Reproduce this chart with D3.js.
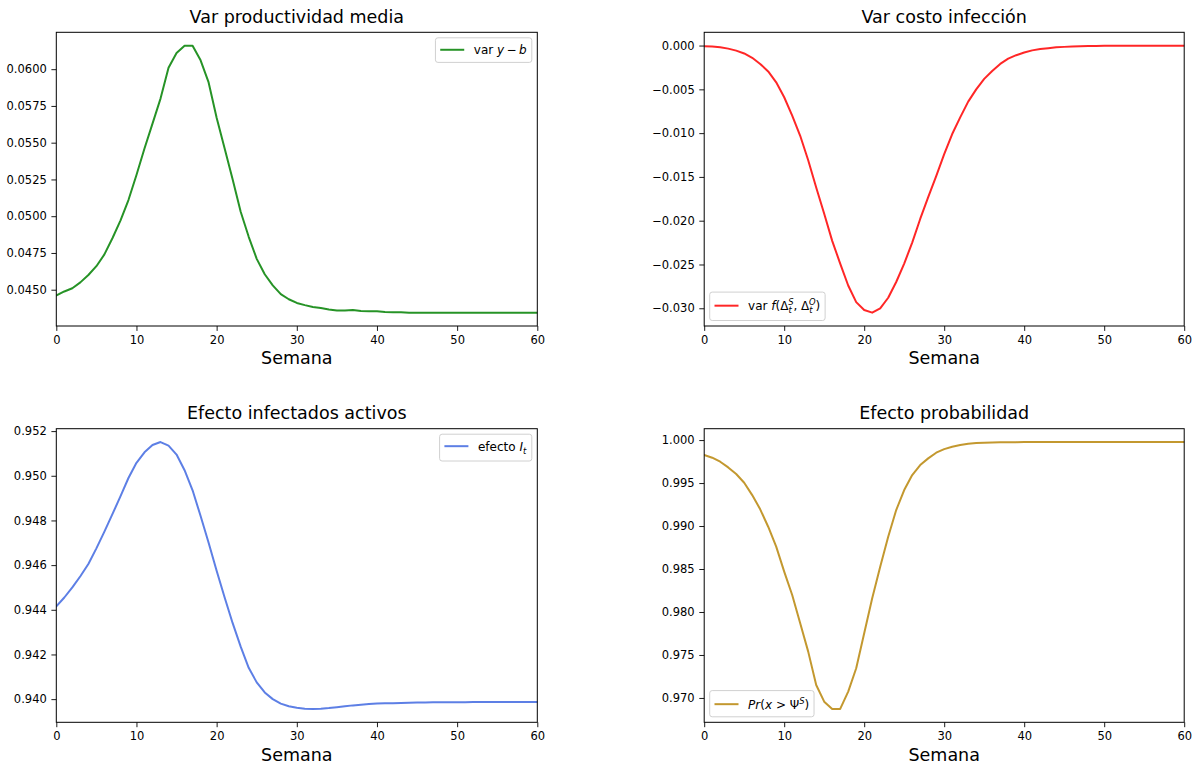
<!DOCTYPE html>
<html><head><meta charset="utf-8">
<script src="https://cdn.jsdelivr.net/npm/d3@7"></script>
<style>
body{margin:0;background:#fff}
svg{display:block}
text{font-family:"DejaVu Sans",sans-serif;fill:#000}
</style>
</head><body>
<svg id="c" width="1202" height="771"></svg>
<script>
// ---------------- data ----------------
const semanas = [0,1,2,3,4,5,6,7,8,9,10,11,12,13,14,15,16,17,18,19,20,21,22,23,24,25,26,27,28,29,30,
  31,32,33,34,35,36,37,38,39,40,41,42,43,44,45,46,47,48,49,50,51,52,53,54,55,56,57,58,59,60];

const varProductividad = [0.04460,0.04488,0.04510,0.04550,0.04600,0.04660,0.04740,0.04850,0.04970,0.05110,
  0.05280,0.05460,0.05630,0.05800,0.06010,0.06110,0.06160,0.06160,0.06060,0.05910,
  0.05670,0.05460,0.05250,0.05030,0.04860,0.04710,0.04605,0.04530,0.04470,0.04435,
  0.04410,0.04395,0.04382,0.04375,0.04365,0.04358,0.04358,0.04362,0.04356,0.04353,
  0.04353,0.04348,0.04347,0.04347,0.04344,0.04344,0.04344,0.04344,0.04344,0.04344,
  0.04344,0.04344,0.04344,0.04344,0.04344,0.04344,0.04344,0.04344,0.04344,0.04344,0.04344];

const varCosto = [-0.00008,-0.00012,-0.00020,-0.00035,-0.00058,-0.00090,-0.00140,-0.00210,-0.00295,-0.00420,
  -0.00590,-0.00800,-0.01030,-0.01310,-0.01620,-0.01920,-0.02230,-0.02490,-0.02740,-0.02930,
  -0.03020,-0.03050,-0.03000,-0.02880,-0.02700,-0.02490,-0.02250,-0.01980,-0.01730,-0.01490,
  -0.01240,-0.01010,-0.00820,-0.00640,-0.00500,-0.00380,-0.00290,-0.00210,-0.00150,-0.00110,
  -0.00080,-0.00055,-0.00040,-0.00030,-0.00020,-0.00015,-0.00010,-0.00007,-0.00005,-0.00004,
  -0.00003,-0.00002,-0.00002,-0.00002,-0.00001,-0.00001,-0.00001,-0.00001,-0.00001,-0.00001,-0.00001];

const efectoInfectados = [0.94415,0.94455,0.94500,0.94550,0.94605,0.94675,0.94750,0.94828,0.94908,0.94990,
  0.95058,0.95105,0.95138,0.95151,0.95135,0.95095,0.95025,0.94935,0.94820,0.94700,
  0.94575,0.94455,0.94340,0.94235,0.94140,0.94075,0.94030,0.94000,0.93980,0.93968,
  0.93961,0.93957,0.93956,0.93957,0.93960,0.93964,0.93968,0.93972,0.93975,0.93978,
  0.93980,0.93981,0.93982,0.93983,0.93984,0.93985,0.93985,0.93986,0.93986,0.93986,
  0.93986,0.93986,0.93987,0.93987,0.93987,0.93987,0.93987,0.93987,0.93987,0.93987,0.93987];

const efectoProbabilidad = [0.99826,0.99795,0.99748,0.99682,0.99605,0.99504,0.99360,0.99194,0.98992,0.98760,
  0.98469,0.98198,0.97868,0.97539,0.97151,0.96957,0.96872,0.96872,0.97074,0.97345,
  0.97752,0.98160,0.98527,0.98876,0.99186,0.99419,0.99593,0.99709,0.99787,0.99853,
  0.99895,0.99922,0.99942,0.99957,0.99965,0.99969,0.99972,0.99974,0.99975,0.99976,
  0.99977,0.99977,0.99977,0.99977,0.99977,0.99977,0.99977,0.99977,0.99977,0.99977,
  0.99977,0.99977,0.99977,0.99977,0.99977,0.99977,0.99977,0.99977,0.99977,0.99977,0.99977];

const xTicks = [0,10,20,30,40,50,60];
const yTicksProductividad = [0.0450,0.0475,0.0500,0.0525,0.0550,0.0575,0.0600];
const yTicksCosto = [-0.030,-0.025,-0.020,-0.015,-0.010,-0.005,0.000];
const yTicksInfectados = [0.940,0.942,0.944,0.946,0.948,0.950,0.952];
const yTicksProbabilidad = [0.970,0.975,0.980,0.985,0.990,0.995,1.000];

const titles = ["Var productividad media","Var costo infección","Efecto infectados activos","Efecto probabilidad"];
const xLabel = "Semana";

// legend labels as rich-text pieces
const legendLabels = [
  [{t:"var "},{t:"y",it:1},{t:"\u2009\u2212\u2009"},{t:"b",it:1}],
  [{t:"var "},{t:"f",it:1},{t:"("},{t:"\u0394"},{t:"t",it:1,sub:1},{t:"S",it:1,sup:1,back:1},{t:", "},{t:"\u0394"},{t:"t",it:1,sub:1},{t:"O",it:1,sup:1,back:1},{t:")"}],
  [{t:"efecto "},{t:"I",it:1},{t:"t",it:1,sub:1}],
  [{t:"P",it:1},{t:"r",it:1},{t:"("},{t:"x",it:1},{t:" > "},{t:"\u03A8"},{t:"S",it:1,sup:1},{t:")"}]
];

// ---------------- layout ----------------
const panels = [
  {vals:varProductividad, ticks:yTicksProductividad, fmt:".4f", color:"#008000", x0:56.3, x1:537.3, y0:32.3, y1:326, legend:"ur"},
  {vals:varCosto, ticks:yTicksCosto, fmt:".3f", color:"#ff0000", x0:704.2, x1:1184.2, y0:32.3, y1:326, legend:"ll"},
  {vals:efectoInfectados, ticks:yTicksInfectados, fmt:".3f", color:"#4169e1", x0:56.3, x1:537.3, y0:428.7, y1:722.3, legend:"ur"},
  {vals:efectoProbabilidad, ticks:yTicksProbabilidad, fmt:".3f", color:"#b8860b", x0:704.2, x1:1184.2, y0:428.7, y1:722.3, legend:"ll"}
];

const svg = d3.select("#c");
const TICK = 4.9, PAD = 4.6, TFS = 11.5, LFS = 12, TITLEFS = 17.5;

panels.forEach((p, i) => {
  const x = d3.scaleLinear().domain([0, 60]).range([p.x0, p.x1]);
  const mn = d3.min(p.vals), mx = d3.max(p.vals), m = (mx - mn) * 0.05;
  const y = d3.scaleLinear().domain([mn - m, mx + m]).range([p.y1, p.y0]);
  const g = svg.append("g");

  const clipId = "clip" + i;
  g.append("clipPath").attr("id", clipId).append("rect")
    .attr("x", p.x0).attr("y", p.y0).attr("width", p.x1 - p.x0).attr("height", p.y1 - p.y0);
  g.append("path")
    .datum(semanas.map((s, k) => [s, p.vals[k]]))
    .attr("clip-path", `url(#${clipId})`)
    .attr("fill", "none").attr("stroke", p.color).attr("stroke-opacity", 0.85)
    .attr("stroke-width", 2).attr("stroke-linejoin", "round").attr("stroke-linecap", "square")
    .attr("d", d3.line().x(d => x(d[0])).y(d => y(d[1])));

  const ax = g.append("g").attr("transform", `translate(0,${p.y1})`)
    .call(d3.axisBottom(x).tickValues(xTicks).tickSize(TICK).tickPadding(PAD).tickFormat(d3.format("d")));
  const ay = g.append("g").attr("transform", `translate(${p.x0},0)`)
    .call(d3.axisLeft(y).tickValues(p.ticks).tickSize(TICK).tickPadding(PAD).tickFormat(d3.format(p.fmt)));
  [ax, ay].forEach(a => {
    a.select(".domain").remove();
    a.selectAll(".tick line").attr("stroke", "#000").attr("stroke-width", 0.9);
    a.selectAll(".tick text").attr("font-family", "DejaVu Sans").attr("font-size", TFS).attr("fill", "#000");
  });

  g.append("rect").attr("x", p.x0).attr("y", p.y0).attr("width", p.x1 - p.x0).attr("height", p.y1 - p.y0)
    .attr("fill", "none").attr("stroke", "#000").attr("stroke-width", 1);

  const cx = (p.x0 + p.x1) / 2;
  g.append("text").attr("x", cx).attr("y", p.y0 - 9.8).attr("text-anchor", "middle")
    .attr("font-size", TITLEFS).text(titles[i]);
  g.append("text").attr("x", cx).attr("y", p.y1 + 38.2).attr("text-anchor", "middle")
    .attr("font-size", TITLEFS).text(xLabel);

  // legend
  const lg = g.append("g");
  const box = lg.append("rect");
  const handleLen = 2 * LFS, hpad = 0.8 * LFS, bpad = 0.4 * LFS;
  const txt = lg.append("text").attr("font-size", LFS).attr("x", bpad + handleLen + hpad).attr("y", 0);
  let prevSh = 0;
  const subFs = LFS * 0.7;
  legendLabels[i].forEach(pc => {
    const sh = pc.sub ? 3.2 : (pc.sup ? -4.6 : 0);
    const fs = (pc.sub || pc.sup) ? subFs : LFS;
    const ts = txt.append("tspan").text(pc.t).attr("font-size", fs).attr("dy", sh - prevSh);
    if (pc.it) ts.attr("font-style", "italic");
    if (pc.back) ts.attr("dx", -0.392 * subFs - 0.3);
    prevSh = sh;
  });
  const bb = txt.node().getBBox();
  const handleY = -0.36 * LFS;
  lg.append("line").attr("x1", bpad).attr("x2", bpad + handleLen).attr("y1", handleY).attr("y2", handleY)
    .attr("stroke", p.color).attr("stroke-opacity", 0.85).attr("stroke-width", 2);
  const top = Math.min(bb.y, handleY - 6) - 5.3;
  const bottom = bb.y + bb.height + 5.3;
  const bw = bb.x + bb.width + bpad;
  box.attr("x", 0).attr("y", top).attr("width", bw).attr("height", bottom - top)
    .attr("rx", 2.5).attr("fill", "#fff").attr("fill-opacity", 0.8)
    .attr("stroke", "#d0d0d0").attr("stroke-width", 1);
  const off = 5.5;
  let tx, ty;
  if (p.legend === "ur") { tx = p.x1 - off - bw; ty = p.y0 + off - top; }
  else { tx = p.x0 + off; ty = p.y1 - off - bottom; }
  lg.attr("transform", `translate(${tx},${ty})`);
});
</script>
</body></html>
